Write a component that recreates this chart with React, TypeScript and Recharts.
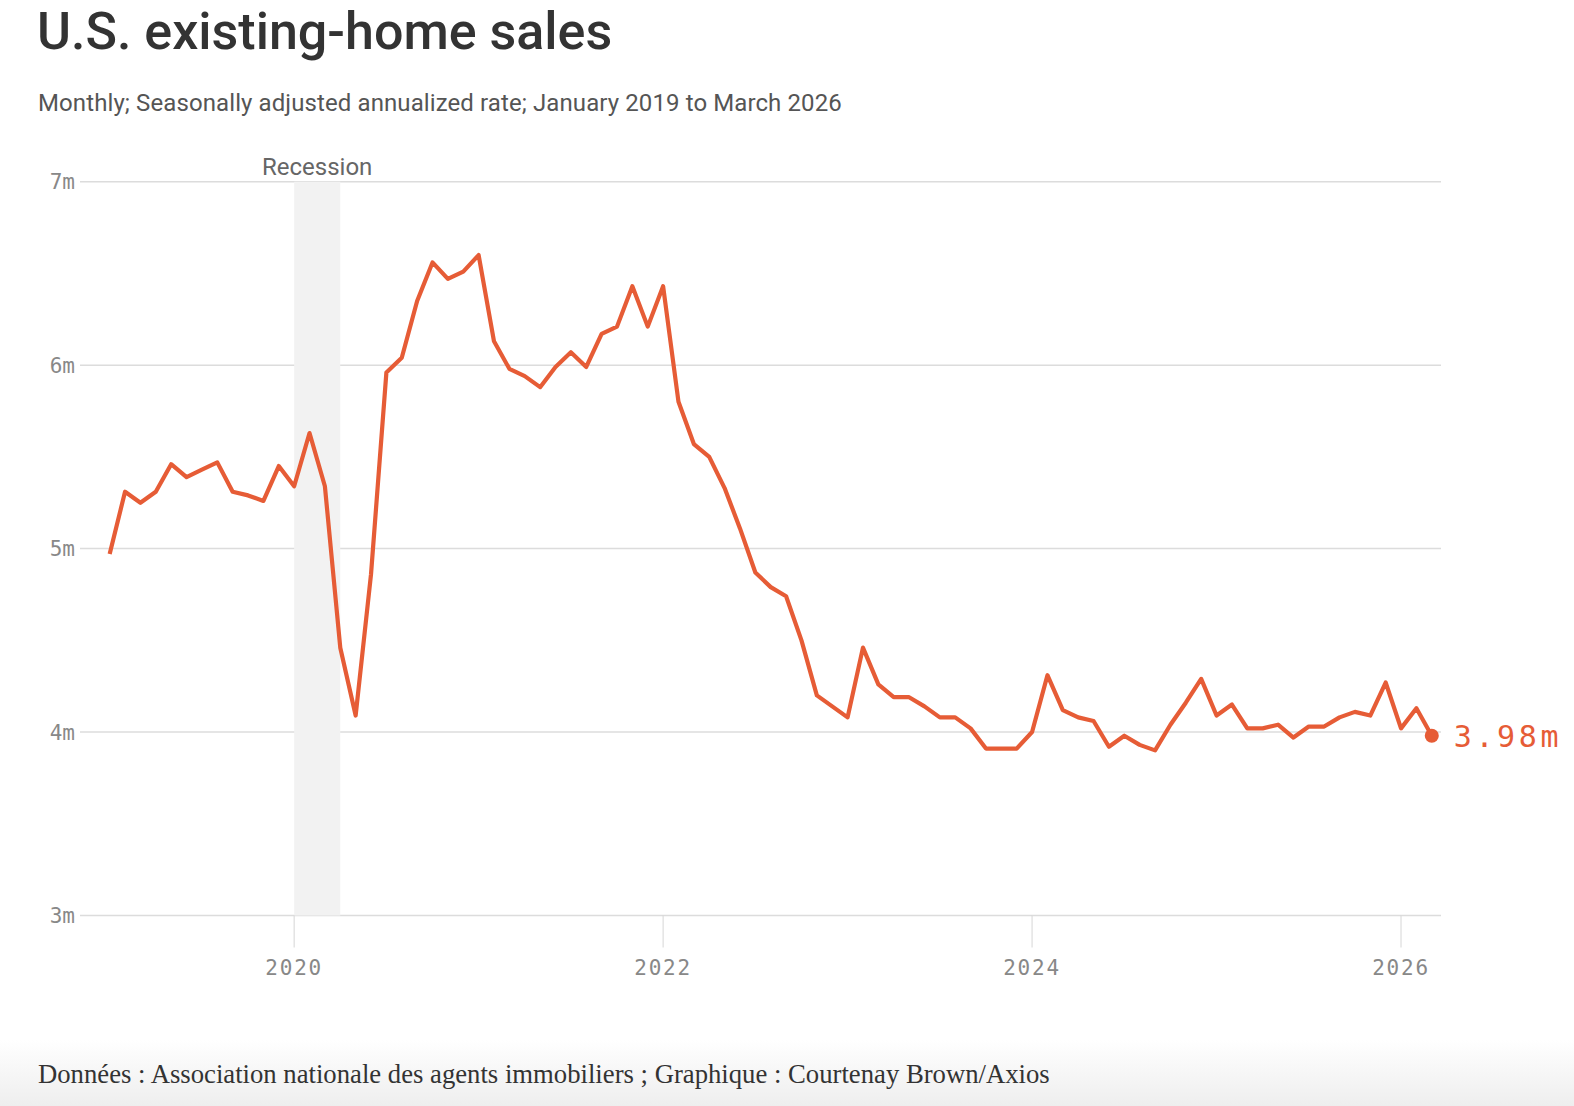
import React from "react";
import {
  LineChart,
  Line,
  XAxis,
  YAxis,
  CartesianGrid,
  ReferenceArea,
} from "recharts";

// Existing-home sales, seasonally adjusted annualized rate (millions), Jan 2019 – Mar 2026
const startYear = 2019;
const sales = [
  4.97, 5.31, 5.25, 5.31, 5.46, 5.39, 5.43, 5.47, 5.31, 5.29, 5.26, 5.45,
  5.34, 5.63, 5.34, 4.46, 4.09, 4.86, 5.96, 6.04, 6.35, 6.56, 6.47, 6.51,
  6.6, 6.13, 5.98, 5.94, 5.88, 5.99, 6.07, 5.99, 6.17, 6.21, 6.43, 6.21,
  6.43, 5.8, 5.57, 5.5, 5.33, 5.11, 4.87, 4.79, 4.74, 4.5, 4.2, 4.14,
  4.08, 4.46, 4.26, 4.19, 4.19, 4.14, 4.08, 4.08, 4.02, 3.91, 3.91, 3.91,
  4.0, 4.31, 4.12, 4.08, 4.06, 3.92, 3.98, 3.93, 3.9, 4.04, 4.16, 4.29,
  4.09, 4.15, 4.02, 4.02, 4.04, 3.97, 4.03, 4.03, 4.08, 4.11, 4.09, 4.27,
  4.02, 4.13, 3.98,
];
const tickYears = [2020, 2022, 2024, 2026];
const yTicks = [3, 4, 5, 6, 7];
// Recession shading, as month offsets from January 2019
const recessionStart = 12;
const recessionEnd = 15;

const data = sales.map((v, i) => ({ i, v }));
const monthOf = (year: number) => (year - startYear) * 12;

const ORANGE = "#e65c36";
const SANS = "Roboto, 'Noto Sans', sans-serif";
const MONO = "'DejaVu Sans Mono', 'Liberation Mono', monospace";

const lastIndex = data.length - 1;

const EndDot = (props: any) => {
  const { cx, cy, index, payload } = props;
  if (index !== lastIndex) return <g key={`d${index}`} />;
  return (
    <g key={`d${index}`}>
      <circle cx={cx} cy={cy} r={7} fill={ORANGE} />
      <text
        x={cx + 22}
        y={cy}
        dy="0.36em"
        fill={ORANGE}
        fontFamily={MONO}
        fontSize={30}
        letterSpacing={3.6}
      >
        {`${payload.v.toFixed(2)}m`}
      </text>
    </g>
  );
};

export default function App() {
  return (
    <div
      style={{
        position: "absolute",
        top: 0,
        left: 0,
        width: 1574,
        height: 1106,
        background: "#fff",
        overflow: "hidden",
      }}
    >
      <div
        style={{
          position: "absolute",
          left: 0,
          top: 1040,
          width: 1574,
          height: 66,
          background: "linear-gradient(to bottom, rgba(238,238,238,0), #eeeeee)",
        }}
      />
      <div
        style={{
          position: "absolute",
          left: 37,
          top: 2,
          fontFamily: SANS,
          fontSize: 52,
          fontWeight: 500,
          color: "#333",
          lineHeight: "60px",
          letterSpacing: 0,
          whiteSpace: "nowrap",
        }}
      >
        U.S. existing-home sales
      </div>
      <div
        style={{
          position: "absolute",
          left: 38,
          top: 88,
          fontFamily: SANS,
          fontSize: 24,
          color: "#555",
          lineHeight: "30px",
          letterSpacing: 0.1,
          whiteSpace: "nowrap",
        }}
      >
        Monthly; Seasonally adjusted annualized rate; January 2019 to March 2026
      </div>
      <div style={{ position: "absolute", left: 0, top: 0 }}>
        <LineChart
          width={1574}
          height={1106}
          data={data}
          margin={{ top: 181.7, right: 133, bottom: 130.5, left: 0 }}
        >
          <ReferenceArea
            x1={recessionStart}
            x2={recessionEnd}
            y1={3}
            y2={7}
            fill="#f2f2f2"
            fillOpacity={1}
            stroke="none"
            ifOverflow="visible"
            label={{
              value: "Recession",
              position: "top",
              offset: 7,
              fill: "#666",
              fontFamily: SANS,
              fontSize: 24,
            }}
          />
          <CartesianGrid
            vertical={false}
            stroke="#dcdcdc"
            strokeWidth={1.5}
          />
          <XAxis
            type="number"
            dataKey="i"
            domain={[-1.93, 86.6]}
            ticks={tickYears.map(monthOf)}
            tickFormatter={(m: number) => String(startYear + m / 12)}
            axisLine={false}
            tickLine={{ stroke: "#d6d6d6", strokeWidth: 1 }}
            tickSize={32}
            tickMargin={13}
            height={60}
            tick={{ fill: "#888", fontFamily: MONO, fontSize: 21, letterSpacing: 1.8 }}
          />
          <YAxis
            type="number"
            domain={[3, 7]}
            ticks={yTicks}
            tickFormatter={(v: number) => `${v}m`}
            axisLine={false}
            tickLine={false}
            tickSize={0}
            tickMargin={5}
            width={80}
            tick={{ fill: "#888", fontFamily: MONO, fontSize: 21 }}
          />
          <Line
            type="linear"
            dataKey="v"
            stroke={ORANGE}
            strokeWidth={4.2}
            strokeLinejoin="round"
            dot={EndDot}
            activeDot={false}
            isAnimationActive={false}
          />
        </LineChart>
      </div>
      <div
        style={{
          position: "absolute",
          left: 38,
          top: 1058,
          fontFamily: "'Liberation Serif', 'DejaVu Serif', serif",
          fontSize: 26.7,
          color: "#333",
          lineHeight: "32px",
          whiteSpace: "nowrap",
        }}
      >
        Données : Association nationale des agents immobiliers ; Graphique : Courtenay Brown/Axios
      </div>
    </div>
  );
}
